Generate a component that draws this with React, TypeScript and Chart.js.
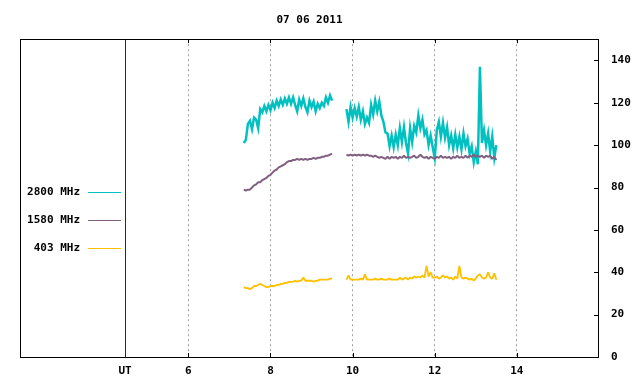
import { useEffect, useRef } from 'react';
import { Chart, registerables } from 'chart.js';

Chart.register(...registerables);

const TITLE = '07 06 2011';
const LABELS = ['2800 MHz', '1580 MHz', '403 MHz'];
const COLORS = ['#00c0c0', '#806080', '#ffc000'];
const LINE_WIDTHS = [2.5, 2, 1.8];
const JOINS = ['miter', 'bevel', 'bevel'];
const X_TICKS = [6, 8, 10, 12, 14];
const UT_POS = 4.46;
const Y_TICKS = [0, 20, 40, 60, 80, 100, 120, 140];
const X_MIN = 1.9;
const X_MAX = 16;
const Y_MIN = 0;
const Y_MAX = 150;

// samples every 0.05 h starting at 7.35 UT
const T_START = 7.35;
const T_STEP = 0.05;
const N = null;

const flux2800 = [
  101, 102.5, 110, 111.5, 107.5, 113, 112, 108, 117, 115.5,
  118.5, 116, 119, 116.5, 120, 117.5, 121, 118.5, 121.5, 119,
  122, 119.5, 122.5, 119.5, 122.5, 119, 116, 121.5, 118.5, 122,
  118, 115.5, 121, 118, 120.5, 116, 119.5, 117.5, 120, 118.5,
  122.5, 120, 123.5, 121,
  N, N, N, N, N, N,
  117, 111, 118, 113, 117.5, 113.5, 118, 112, 116, 110,
  113, 110.5, 119, 114.5, 121, 116, 120.5, 114, 111, 106,
  105.5, 99.5, 104.5, 99, 105, 100, 108, 101.5, 108.5, 101,
  96, 108, 101.5, 109, 106, 114, 108, 112, 105, 107,
  100, 104.5, 99, 94, 107, 111, 104, 110.5, 103.5, 108.5,
  100, 104.5, 98.5, 105, 99, 104, 98, 105.5, 99.5, 103,
  96, 99.5, 92, 97, 91, 137, 101, 107, 100, 105.5,
  97, 104, 94, 100,
];

const flux1580 = [
  79, 78.5, 79, 79, 80, 81, 81.5, 82.5, 82.5, 83.5,
  84, 84.5, 85.5, 86, 87, 88, 88.5, 89.5, 90, 90.5,
  91, 92, 92.5, 92.5, 93, 93, 93.5, 93, 93.5, 93,
  93.5, 93, 93.5, 93.5, 94, 93.5, 94, 94, 94.5, 94.5,
  95, 95, 95.5, 96,
  N, N, N, N, N, N,
  95.5, 95, 95.5, 95, 95.5, 95, 95.5, 95, 95.5, 95,
  95.5, 95, 95, 94.5, 95, 94.5, 94, 94.5, 94, 93.5,
  94.5, 93.5, 94.5, 94, 94.5, 93.5, 94.5, 94, 95, 94,
  94.5, 94, 94.5, 95, 94, 94.5, 95.5, 94.5, 94, 94.5,
  93.5, 94.5, 94, 93.5, 94.5, 94, 95, 94, 94.5, 94,
  94.5, 93.5, 94.5, 94, 95, 94, 94.5, 94, 95, 94,
  95, 94.5, 95.5, 94.5, 95, 94.5, 95, 94, 95, 94.5,
  95, 93.5, 94.5, 93,
];

const flux403 = [
  33, 32.5, 32.5, 32, 32.5, 33.5, 33.5, 34, 34.5, 34,
  33.5, 33, 33, 33.5, 33.5, 33.5, 34, 34, 34.5, 34.5,
  35, 35, 35.5, 35.5, 35.5, 36, 35.5, 36, 36, 37.5,
  36, 36, 36, 36, 35.5, 36, 36, 36.5, 36.5, 36.5,
  36.5, 36.5, 37, 37,
  N, N, N, N, N, N,
  36.5, 38.5, 36.5, 36.5, 36.5, 36.5, 36.5, 37, 36.5, 39,
  36.5, 36.5, 36.5, 36.5, 37, 36.5, 36.5, 37, 36.5, 36.5,
  36.5, 37, 36.5, 36.5, 36.5, 36.5, 37.5, 36.5, 37, 37.5,
  36.5, 37.5, 37, 38, 37.5, 38, 37.5, 38.5, 37.5, 43,
  38, 40, 37.5, 37.5, 38, 37, 37.5, 38.5, 37.5, 38,
  37, 37.5, 36.5, 38, 37, 43, 37.5, 37, 37.5, 37,
  36.5, 37, 36, 37, 38.5, 39, 37.5, 37, 37.5, 40,
  37.5, 37, 39.5, 36.5,
];

const SERIES = [flux2800, flux1580, flux403];
const DRAW_ORDER = [1, 0, 2];

const FONT = { family: "'DejaVu Sans Mono', monospace", size: 11, weight: 'bold' as const };
const FONT_CSS = "bold 11px 'DejaVu Sans Mono', monospace";

function toPoints(values: (number | null)[]) {
  return values.map((v, i) => ({ x: +(T_START + T_STEP * i).toFixed(3), y: v }));
}

const framePlugin = {
  id: 'frameAndKey',
  afterDraw(chart: any) {
    const { ctx, chartArea: a, scales } = chart;
    ctx.save();
    ctx.strokeStyle = '#000';
    ctx.lineWidth = 1;
    ctx.strokeRect(Math.round(a.left) + 0.5, Math.round(a.top) + 0.5,
      Math.round(a.right) - Math.round(a.left) - 1, Math.round(a.bottom) - Math.round(a.top));
    ctx.beginPath();
    for (const v of X_TICKS) {
      const px = Math.round(scales.x.getPixelForValue(v)) + 0.5;
      ctx.moveTo(px, a.bottom);
      ctx.lineTo(px, a.bottom - 4);
      ctx.moveTo(px, a.top);
      ctx.lineTo(px, a.top + 4);
    }
    for (const v of Y_TICKS) {
      const py = Math.round(scales.y.getPixelForValue(v)) + 0.5;
      ctx.moveTo(a.right - 1, py);
      ctx.lineTo(a.right - 5, py);
    }
    ctx.stroke();

    // key
    ctx.font = FONT_CSS;
    ctx.textAlign = 'right';
    ctx.textBaseline = 'middle';
    LABELS.forEach((label, i) => {
      const y = Math.round(a.top + 153 + i * 28) + 0.5;
      ctx.fillStyle = '#000';
      ctx.fillText(label, a.left + 60, y);
      ctx.strokeStyle = COLORS[i];
      ctx.beginPath();
      ctx.moveTo(a.left + 68, y);
      ctx.lineTo(a.left + 101, y);
      ctx.stroke();
    });
    ctx.restore();
  },
};

export default function App() {
  const ref = useRef<HTMLCanvasElement>(null);
  useEffect(() => {
    const datasets = SERIES.map((vals, i) => ({
      label: LABELS[i],
      data: toPoints(vals),
      borderColor: COLORS[i],
      backgroundColor: COLORS[i],
      borderWidth: LINE_WIDTHS[i],
      borderJoinStyle: JOINS[i],
      pointRadius: 0,
      tension: 0,
      spanGaps: false,
      order: DRAW_ORDER[i],
    }));
    const chart = new Chart(ref.current as HTMLCanvasElement, {
      type: 'line',
      data: { datasets },
      options: {
        responsive: false,
        animation: false,
        devicePixelRatio: 1,
        layout: { padding: { left: 20, top: 0, right: 0, bottom: 0 } },
        plugins: {
          legend: { display: false },
          tooltip: { enabled: false },
          title: {
            display: true,
            text: TITLE,
            fullSize: false,
            color: '#000',
            font: FONT,
            padding: { top: 14, bottom: 12 },
          },
        },
        scales: {
          x: {
            type: 'linear',
            min: X_MIN,
            max: X_MAX,
            afterBuildTicks: (s: any) => {
              s.ticks = [UT_POS, ...X_TICKS].map((v) => ({ value: v }));
            },
            afterFit: (s: any) => {
              s.height = 27;
            },
            grid: {
              color: (c: any) => (c.tick && c.tick.value === UT_POS ? '#8b0000' : '#a0a0a0'),
              lineWidth: 1,
              drawTicks: false,
            },
            border: {
              display: false,
              dash: (c: any) => (c.tick && c.tick.value === UT_POS ? [] : [2, 3]),
            },
            ticks: {
              autoSkip: false,
              maxRotation: 0,
              padding: 8,
              color: '#000',
              font: FONT,
              callback: (v: any) => (v === UT_POS ? 'UT' : String(v)),
            },
          },
          y: {
            position: 'right',
            min: Y_MIN,
            max: Y_MAX,
            afterBuildTicks: (s: any) => {
              s.ticks = Y_TICKS.map((v) => ({ value: v }));
            },
            afterFit: (s: any) => {
              s.width = 41;
            },
            grid: { display: false },
            border: { display: false },
            ticks: {
              padding: 4,
              color: '#000',
              font: FONT,
              callback: (v: any) => String(v),
            },
          },
        },
      },
      plugins: [framePlugin],
    } as any);
    return () => chart.destroy();
  }, []);
  return (
    <div style={{ position: 'fixed', left: 0, top: 0, width: 640, height: 384, background: '#fff' }}>
      <canvas ref={ref} width={640} height={384} style={{ display: 'block' }} />
    </div>
  );
}
